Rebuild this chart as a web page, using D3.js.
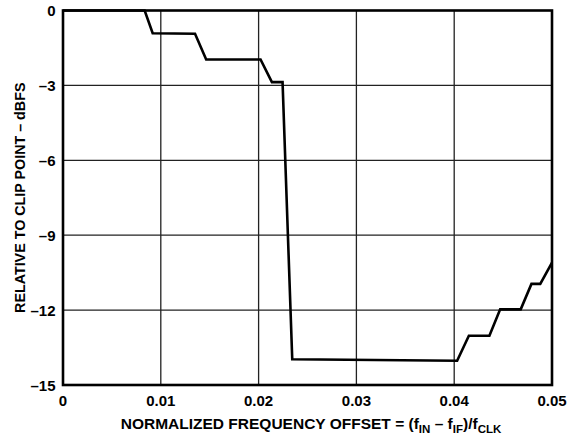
<!DOCTYPE html>
<html>
<head>
<meta charset="utf-8">
<script src="https://cdn.jsdelivr.net/npm/d3@7"></script>
<style>
  body { margin: 0; background: #fff; }
  text { font-family: "Liberation Sans", Arial, sans-serif; font-weight: bold; fill: #000; }
</style>
</head>
<body>
<svg id="chart"></svg>
<script>
// curve (offset, dBFS)
const offsets = [0, 0.00835, 0.00917, 0.0135, 0.01464, 0.0202, 0.02136, 0.02245, 0.02344,
  0.0403, 0.0415, 0.0436, 0.0447, 0.0468, 0.0479, 0.0488, 0.05];
const levels = [0, 0, -0.91, -0.93, -1.96, -1.96, -2.87, -2.87, -13.97,
  -14.03, -13.03, -13.03, -11.97, -11.97, -10.95, -10.95, -10.1];
const xTicks = [0, 0.01, 0.02, 0.03, 0.04, 0.05];
const yTicks = [0, -3, -6, -9, -12, -15];

const config = {
  width: 570,
  height: 439,
  margin: { top: 10.5, right: 18, bottom: 54, left: 63 }
};

const svg = d3.select("#chart").attr("width", config.width).attr("height", config.height);

const x = d3.scaleLinear().domain([0, 0.05]).range([config.margin.left, config.width - config.margin.right]);
const y = d3.scaleLinear().domain([0, -15]).range([config.margin.top, config.height - config.margin.bottom]);

// grid
svg.append("g")
  .selectAll("line")
  .data(xTicks.slice(1, -1))
  .enter()
  .append("line")
  .attr("x1", d => x(d)).attr("x2", d => x(d))
  .attr("y1", y(0)).attr("y2", y(-15))
  .attr("stroke", "#222").attr("stroke-width", 1.3);

svg.append("g")
  .selectAll("line")
  .data(yTicks.slice(1, -1))
  .enter()
  .append("line")
  .attr("x1", x(0)).attr("x2", x(0.05))
  .attr("y1", d => y(d)).attr("y2", d => y(d))
  .attr("stroke", "#222").attr("stroke-width", 1.3);

// curve
const line = d3.line().x((d, i) => x(offsets[i])).y(d => y(d));
svg.append("path")
  .datum(levels)
  .attr("d", line)
  .attr("fill", "none")
  .attr("stroke", "#000")
  .attr("stroke-width", 2.6)
  .attr("stroke-linejoin", "miter");

// frame
svg.append("rect")
  .attr("x", x(0)).attr("y", y(0))
  .attr("width", x(0.05) - x(0)).attr("height", y(-15) - y(0))
  .attr("fill", "none").attr("stroke", "#000").attr("stroke-width", 2.6);

// tick labels
const minus = v => (v < 0 ? "\u2013" + Math.abs(v) : String(v));

svg.append("g")
  .selectAll("text")
  .data(yTicks)
  .enter()
  .append("text")
  .attr("x", 55.5)
  .attr("y", d => y(d) + 5.5)
  .attr("text-anchor", "end")
  .attr("font-size", 15)
  .text(minus);

svg.append("g")
  .selectAll("text")
  .data(xTicks)
  .enter()
  .append("text")
  .attr("x", d => x(d))
  .attr("y", 406)
  .attr("text-anchor", "middle")
  .attr("font-size", 15)
  .text(d => (d === 0 ? "0" : d.toFixed(2)));

// axis titles
svg.append("text")
  .attr("transform", `translate(25,${(y(0) + y(-15)) / 2}) rotate(-90)`)
  .attr("text-anchor", "middle")
  .attr("font-size", 14.3)
  .text("RELATIVE TO CLIP POINT \u2013 dBFS");

const xt = svg.append("text")
  .attr("x", 311)
  .attr("y", 429)
  .attr("text-anchor", "middle")
  .attr("font-size", 15.5);
xt.append("tspan").text("NORMALIZED FREQUENCY OFFSET = (f");
xt.append("tspan").attr("font-size", 11.5).attr("dy", 4).text("IN");
xt.append("tspan").attr("dy", -4).text(" \u2013 f");
xt.append("tspan").attr("font-size", 11.5).attr("dy", 4).text("IF");
xt.append("tspan").attr("dy", -4).text(")/f");
xt.append("tspan").attr("font-size", 11.5).attr("dy", 4).text("CLK");
</script>
</body>
</html>
